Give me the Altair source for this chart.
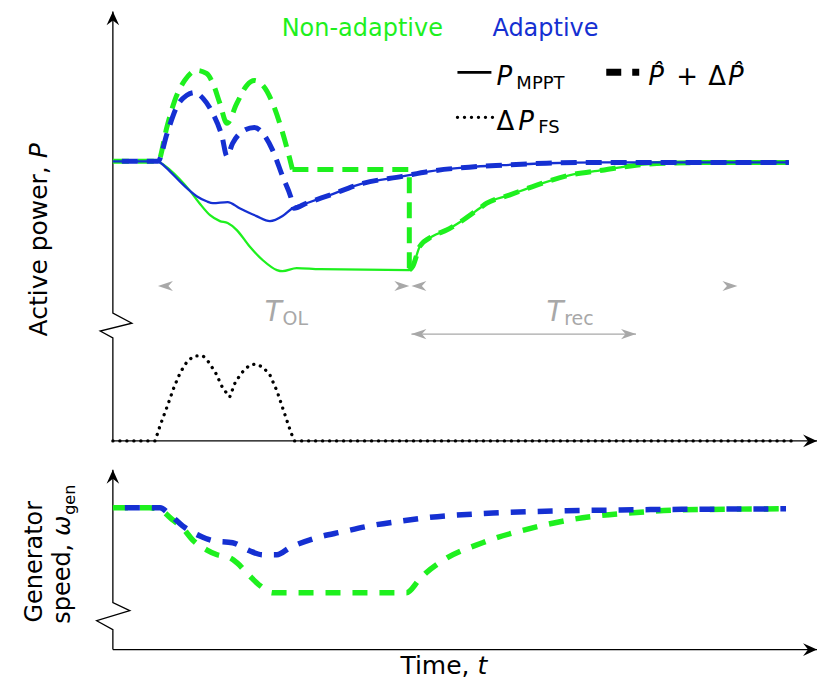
import altair as alt
import pandas as pd

# ---------------- data ----------------
# time in arbitrary units (0 .. 100 across the axis)
# top panel: active power normalised to the pre-event value (1.0)
t_mppt_na = [0, 6.4, 6.7, 9.5, 10.9, 12.3, 13.8, 15.2, 16.3, 17.6, 19.4, 21.3, 23.3, 24.1, 26.1, 29.4,
             42.1, 42.6, 43.6, 45.4, 47.4, 49.7, 52.1, 53.1, 56.3, 60.1, 64.8, 69.5, 74.3, 79.0, 86.5, 96.0]
p_mppt_na = [1.0, 1.0, 0.996, 0.936, 0.896, 0.850, 0.807, 0.786, 0.779, 0.754, 0.696, 0.646, 0.611, 0.607, 0.618, 0.614,
             0.611, 0.625, 0.696, 0.732, 0.754, 0.789, 0.832, 0.850, 0.879, 0.914, 0.950, 0.968, 0.986, 0.993, 0.996, 0.996]

t_mppt_ad = [0, 6.4, 6.7, 8.1, 9.9, 11.9, 13.3, 14.2, 16.3, 18.0, 20.4, 22.3, 24.1, 25.5, 27.5, 30.8,
             35.5, 41.1, 45.0, 50.6, 55.3, 61.6, 69.5, 96.0]
p_mppt_ad = [1.0, 1.0, 0.996, 0.964, 0.918, 0.875, 0.857, 0.850, 0.854, 0.832, 0.804, 0.786, 0.804, 0.832, 0.850, 0.879,
             0.921, 0.946, 0.964, 0.979, 0.986, 0.993, 0.996, 0.996]

# P^ + dP^ (non-adaptive): rise/humps, hold, then recovery along P_MPPT
t_ref_na_rise = [0, 6.4, 7.7, 8.8, 10.2, 11.9, 13.3, 14.2, 15.2, 16.2, 17.6, 19.0, 20.1, 21.3, 22.7, 24.0, 25.1, 25.5]
p_ref_na_rise = [1.0, 1.0, 1.125, 1.218, 1.289, 1.325, 1.314, 1.279, 1.207, 1.136, 1.207, 1.271, 1.289, 1.271, 1.207,
                 1.111, 1.011, 0.971]
t_ref_na_hold = [25.5, 42.1, 42.1]
p_ref_na_hold = [0.971, 0.971, 0.611]
t_ref_na_rec = [42.1, 42.6, 43.6, 45.4, 47.4, 49.7, 52.1, 53.1, 56.3, 60.1, 64.8, 69.5, 74.3, 79.0, 86.5, 96.0]
p_ref_na_rec = [0.611, 0.625, 0.696, 0.732, 0.754, 0.789, 0.832, 0.850, 0.879, 0.914, 0.950, 0.968, 0.986, 0.993,
                0.996, 0.996]

# P^ + dP^ (adaptive)
t_ref_ad = [0, 6.4, 7.7, 9.1, 10.5, 11.6, 12.8, 14.2, 15.5, 16.2, 17.0, 18.4, 20.1, 21.3, 22.7, 24.1, 25.4, 25.7,
            27.5, 30.8, 35.5, 41.1, 45.0, 50.6, 55.3, 61.6, 69.5, 96.0]
p_ref_ad = [1.0, 1.0, 1.100, 1.196, 1.236, 1.246, 1.225, 1.171, 1.089, 1.018, 1.064, 1.107, 1.121, 1.100, 1.039, 0.946,
            0.861, 0.832, 0.850, 0.879, 0.921, 0.946, 0.964, 0.979, 0.986, 0.993, 0.996, 0.996]

# dP_FS (lower, broken part of the power axis)
t_fs = [0, 6.0, 6.7, 7.8, 8.7, 9.6, 10.6, 11.6, 12.8, 13.6, 14.6, 15.6, 16.6, 17.4, 18.4, 19.4, 20.3, 21.3, 22.3,
        23.3, 24.3, 25.3, 25.8, 96.7]
dp_fs = [0, 0, 0.054, 0.129, 0.193, 0.246, 0.286, 0.304, 0.304, 0.282, 0.243, 0.189, 0.157, 0.211, 0.246, 0.271,
         0.275, 0.264, 0.236, 0.179, 0.104, 0.029, 0, 0]

# bottom panel: generator speed (normalised)
t_w_na = [0, 5.2, 6.7, 8.5, 9.9, 11.3, 13.3, 14.8, 16.6, 17.6, 19.4, 20.9, 22.7, 24.1, 28.9, 41.7, 43.5, 44.5, 46.8,
          52.5, 59.6, 66.7, 73.8, 80.9, 95.6]
w_na = [1.0, 1.0, 0.986, 0.915, 0.859, 0.775, 0.704, 0.669, 0.648, 0.613, 0.521, 0.451, 0.401, 0.401, 0.401, 0.401,
        0.493, 0.542, 0.627, 0.754, 0.859, 0.930, 0.965, 0.986, 0.993]
t_w_ad = [0, 6.2, 6.7, 8.1, 9.9, 12.3, 14.2, 17.0, 19.4, 21.3, 23.3, 25.1, 28.9, 32.6, 36.5, 41.1, 44.5, 54.9, 64.4,
          73.8, 95.6]
w_ad = [1.0, 1.0, 1.0, 0.951, 0.873, 0.803, 0.768, 0.754, 0.697, 0.669, 0.669, 0.718, 0.789, 0.831, 0.873, 0.908,
        0.930, 0.965, 0.979, 0.986, 0.993]

# axis-break outlines
p_axis_t = [0, 0, -1.8, 2.7, 0, 0]
p_axis_v = [0, 0.368, 0.393, 0.421, 0.457, 1.536]
w_axis_t = [0, 0, -2.3, 2.4, 0, 0]
w_axis_v = [0, 0.141, 0.204, 0.275, 0.331, 1.268]

# annotation spans (time)
t_ol_span = [6.4, 42.1]
t_rec_span = [42.4, 88.7]
t_rec_bar = [42.4, 74.3]
v_span = 0.554
v_bar = 0.382

# ---------------- styling ----------------
GREEN = "#1ef01e"
BLUE = "#1530d2"
GRAY = "#a8a8a8"
FONT = "DejaVu Sans"
XS = alt.Scale(domain=[0, 100])
YP = alt.Scale(domain=[0, 1.536])
YW = alt.Scale(domain=[0, 1.268])

ARROW_UP = "M0,0 L0.42,0.93 L0,0.6 L-0.42,0.93 Z"
ARROW_RIGHT = "M0,0 L-0.93,-0.42 L-0.6,0 L-0.93,0.42 Z"
GRAY_LEFT = "M0,0 L1,-0.34 L0.7,0 L1,0.34 Z"
GRAY_RIGHT = "M0,0 L-1,-0.34 L-0.7,0 L-1,0.34 Z"

ONE = pd.DataFrame({"_": [0]})


def xy(ys):
    return dict(x=alt.X("t:Q", scale=XS, axis=None), y=alt.Y("v:Q", scale=ys, axis=None))


def line(t, v, ys, color, width, dash=None, interp="monotone", offset=None, cap="butt"):
    d = pd.DataFrame({"t": t, "v": v, "i": list(range(len(t)))})
    kw = dict(color=color, strokeWidth=width, interpolate=interp, strokeCap=cap)
    if dash:
        kw["strokeDash"] = dash
    if offset is not None:
        kw["strokeDashOffset"] = offset
    return alt.Chart(d).mark_line(**kw).encode(order=alt.Order("i:Q"), **xy(ys))


def heads(t, v, shape, ys, color, size):
    d = pd.DataFrame({"t": t, "v": v})
    return alt.Chart(d).mark_point(shape=shape, filled=True, color=color, size=size,
                                   opacity=1, strokeWidth=0).encode(**xy(ys))


def dtext(t, v, text, ys, size, color="black", italic=False, align="left"):
    d = pd.DataFrame({"t": [t], "v": [v]})
    return alt.Chart(d).mark_text(text=text, font=FONT, fontSize=size, color=color, align=align,
                                  baseline="alphabetic",
                                  fontStyle="italic" if italic else "normal").encode(**xy(ys))


def ptext(x, y, text, size, color="black", italic=False, align="left", angle=0):
    return alt.Chart(ONE).mark_text(text=text, font=FONT, fontSize=size, color=color, align=align,
                                    baseline="alphabetic", angle=angle,
                                    fontStyle="italic" if italic else "normal").encode(
        x=alt.value(x), y=alt.value(y))


def prule(x1, x2, y, width, dash=None, cap="butt"):
    kw = dict(color="black", strokeWidth=width, strokeCap=cap)
    if dash:
        kw["strokeDash"] = dash
    return alt.Chart(ONE).mark_rule(**kw).encode(x=alt.value(x1), x2=alt.value(x2), y=alt.value(y))


def pad_rect(x1, x2, y1, y2):
    return alt.Chart(ONE).mark_rect(color="white", opacity=0.01).encode(
        x=alt.value(x1), x2=alt.value(x2), y=alt.value(y1), y2=alt.value(y2))


DASH_T = [16, 9]
DASH_B = [15, 12]
DOTS = [0.1, 6.9]

top_layers = [
    pad_rect(-105, -104, 0, 1),
    line(p_axis_t, p_axis_v, YP, "black", 1.3, interp="linear"),
    line([0, 100], [0, 0], YP, "black", 1.3, interp="linear"),
    heads([0], [1.536], ARROW_UP, YP, "black", 900),
    heads([100], [0], ARROW_RIGHT, YP, "black", 900),
    line(t_fs, dp_fs, YP, "black", 3.3, dash=DOTS, interp="linear", cap="round"),
    line(t_mppt_na, p_mppt_na, YP, GREEN, 2.3),
    line(t_ref_na_rise, p_ref_na_rise, YP, GREEN, 5, dash=DASH_T),
    line(t_ref_na_hold, p_ref_na_hold, YP, GREEN, 5, dash=DASH_T, interp="linear"),
    line(t_ref_na_rec, p_ref_na_rec, YP, GREEN, 5, dash=DASH_T),
    line(t_mppt_ad, p_mppt_ad, YP, BLUE, 2.3),
    line(t_ref_ad, p_ref_ad, YP, BLUE, 5, dash=DASH_T, offset=16),
    # gray interval annotations
    heads([t_ol_span[0]], [v_span], GRAY_LEFT, YP, GRAY, 900),
    heads([t_ol_span[1]], [v_span], GRAY_RIGHT, YP, GRAY, 900),
    heads([t_rec_span[0]], [v_span], GRAY_LEFT, YP, GRAY, 900),
    heads([t_rec_span[1]], [v_span], GRAY_RIGHT, YP, GRAY, 900),
    line(t_rec_bar, [v_bar, v_bar], YP, GRAY, 1.2, interp="linear"),
    heads([t_rec_bar[0]], [v_bar], GRAY_LEFT, YP, GRAY, 900),
    heads([t_rec_bar[1]], [v_bar], GRAY_RIGHT, YP, GRAY, 900),
    dtext(24.0, 0.429, "T", YP, 28, GRAY, italic=True, align="right"),
    dtext(24.1, 0.414, "OL", YP, 19, GRAY),
    dtext(64.0, 0.429, "T", YP, 28, GRAY, italic=True, align="right"),
    dtext(64.1, 0.414, "rec", YP, 19, GRAY),
    # legend
    ptext(169, 25, "Non-adaptive", 24, GREEN),
    ptext(380, 25, "Adaptive", 24, BLUE),
    prule(345, 379, 61, 2.6),
    ptext(384, 74, "P", 26, italic=True),
    ptext(404, 78, "MPPT", 18),
    prule(494, 527, 61, 7, dash=[15, 11]),
    ptext(536, 74, "P\u0302", 26, italic=True),
    ptext(575, 74, "+", 26, align="center"),
    ptext(596, 74, "\u0394", 26),
    ptext(616, 74, "P\u0302", 26, italic=True),
    prule(345, 382, 106, 3.3, dash=DOTS, cap="round"),
    ptext(384, 119, "\u0394", 26),
    ptext(406, 119, "P", 26, italic=True),
    ptext(426, 122, "FS", 18),
    # y title (rotated; the word gap is left between the two pieces)
    ptext(-66, 155, "Active power,", 25, align="right", angle=270),
    ptext(-66, 147, "P", 25, italic=True, align="left", angle=270),
]

bottom_layers = [
    pad_rect(-105, -104, 208, 209),
    line(w_axis_t, w_axis_v, YW, "black", 1.3, interp="linear"),
    line([0, 100], [0, 0], YW, "black", 1.3, interp="linear"),
    heads([0], [1.268], ARROW_UP, YW, "black", 900),
    heads([100], [0], ARROW_RIGHT, YW, "black", 900),
    line(t_w_na, w_na, YW, GREEN, 5.5, dash=DASH_B),
    line(t_w_ad, w_ad, YW, BLUE, 5.5, dash=DASH_B, offset=15),
    ptext(-71, 92, "Generator", 24, align="center", angle=270),
    ptext(-43, 74, "speed,", 24, align="right", angle=270),
    ptext(-43, 66, "\u03c9", 24, italic=True, align="left", angle=270),
    ptext(-38, 45, "gen", 16, align="left", angle=270),
    ptext(357, 204, "Time,", 25, align="right"),
    ptext(365, 204, "t", 25, italic=True, align="left"),
]

top = alt.layer(*top_layers).properties(width=705, height=430)
bottom = alt.layer(*bottom_layers).properties(width=705, height=180)

chart = (
    alt.vconcat(top, bottom, spacing=29, bounds="flush")
    .properties(padding=0, background="white")
    .configure_view(stroke=None)
)

chart.save("out.html", embed_options={"renderer": "svg", "actions": False})
